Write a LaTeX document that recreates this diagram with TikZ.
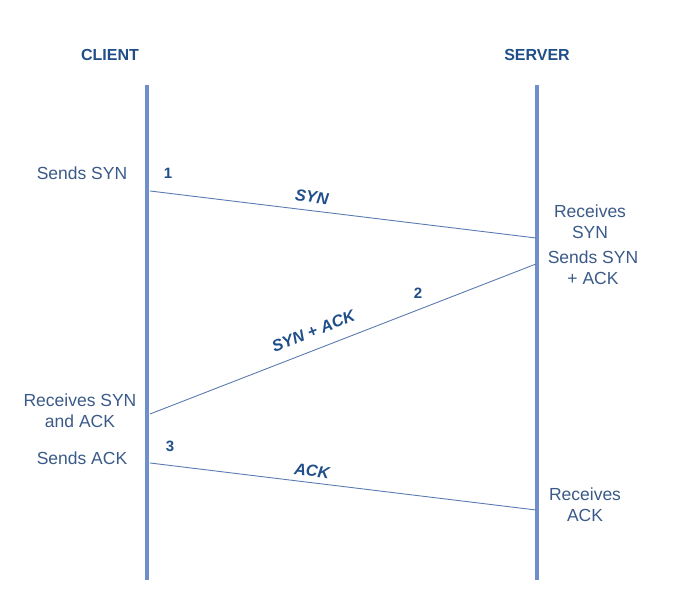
\documentclass[tikz,border=0pt]{standalone}
\usepackage{fontspec}
\setmainfont{Liberation Sans}
\usepackage{tikz}
\usetikzlibrary{positioning}
\definecolor{lifeblue}{HTML}{6F8FC8}
\definecolor{msgblue}{HTML}{5B7BB0}
\definecolor{txtblue}{HTML}{3A5A88}
\definecolor{headblue}{HTML}{1F4E89}
\newcommand{\lifewidth}{4pt}
\newcommand{\msgwidth}{0.9pt}

\begin{document}
\begin{tikzpicture}[x=1pt,y=-1pt,
  head/.style={text=headblue, inner sep=0pt, font=\fontsize{16}{19}\selectfont\bfseries},
  event/.style={text=txtblue, align=center, inner sep=0pt, font=\fontsize{17.5}{21}\selectfont},
  num/.style={text=headblue, inner sep=0pt, font=\fontsize{15}{18}\selectfont\bfseries},
  lifeline/.style={draw=lifeblue, line width=\lifewidth},
  msg/.style={draw=msgblue, line width=\msgwidth},
  msglabel/.style={text=headblue, inner sep=0pt, sloped, font=\fontsize{16.3}{19}\selectfont\bfseries\itshape}]
\useasboundingbox (0,0) rectangle (682,593);
\node[head] (client) at (110,55) {CLIENT};
\node[head] (server) at (537,55) {SERVER};
%lifelines
\coordinate (ctop) at (147,85);
\coordinate (cbot) at (147,580);
\coordinate (stop) at (537,85);
\coordinate (sbot) at (537,580);
\draw[lifeline] (ctop) -- (cbot);
\draw[lifeline] (stop) -- (sbot);
%1
\coordinate (c1) at (150,191);
\coordinate (s1) at (536,238);
\node[event] (sendsyn) at (82,173) {Sends SYN};
\node[num] (n1) at (168,173) {1};
\draw[msg] (c1) -- node[msglabel, pos=0.415, above=7.5pt] {SYN} (s1);
\node[event] (recsyn) at (590,222) {Receives\\SYN};
%2
\coordinate (s2) at (536,264);
\coordinate (c2) at (150,414);
\node[event] (sendsynack) at (593,268) {Sends SYN\\+ ACK};
\node[num] (n2) at (418,293) {2};
\draw[msg] (c2) -- node[msglabel, pos=0.44, above=12pt] {SYN + ACK} (s2);
\node[event] (recsynack) at (80,411) {Receives SYN\\and ACK};
%3
\coordinate (c3) at (150,463);
\coordinate (s3) at (536,510);
\node[event] (sendack) at (82,458) {Sends ACK};
\node[num] (n3) at (170,446) {3};
\draw[msg] (c3) -- node[msglabel, pos=0.416, above=5.5pt] {ACK} (s3);
\node[event] (recack) at (585,505) {Receives\\ACK};
\end{tikzpicture}
\end{document}
